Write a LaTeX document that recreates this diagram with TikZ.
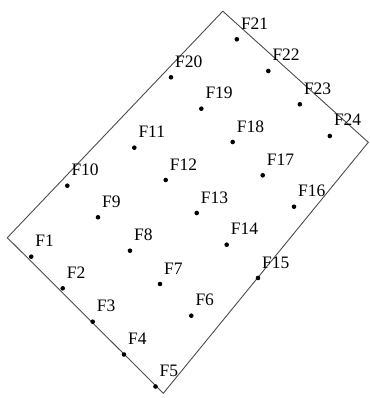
\documentclass[tikz,border=0pt]{standalone}
\usepackage{fontspec}
\setmainfont{Liberation Serif}
\begin{document}
\begin{tikzpicture}[x=1pt,y=-1pt,
  dot/.style={circle,fill=black,inner sep=0pt,minimum size=4.6pt},
  lab/.style={anchor=base west,inner sep=0pt,xshift=4pt,yshift=10pt,font=\fontsize{17.5}{17.5}\selectfont},
  edge/.style={draw=black!70,line width=0.9pt,line join=miter}]
\useasboundingbox (0,0) rectangle (369,398);
\coordinate (L) at (7.3,237.7);
\coordinate (T) at (222.8,11.2);
\coordinate (R) at (368.3,142.3);
\coordinate (B) at (163.3,393.3);
\draw[edge] (L) -- (T) -- (R) -- (B) -- cycle;
\foreach \n/\x/\y in {
  1/31.2/256.7, 2/62.7/288.3, 3/92.7/321.7, 4/124/354.5, 5/155.5/386.5,
  6/191.3/315.7, 7/160/284, 8/130/250.7, 9/98/217.3, 10/67.3/185.7,
  11/134.3/147.7, 12/165.7/180, 13/196.7/213, 14/226.7/244.7, 15/258/278,
  16/294/206.7, 17/262.7/175.3, 18/232.7/142, 19/201.3/108.7, 20/171/77.3,
  21/236.8/39.3, 22/268.3/71, 23/299.8/104.3, 24/329.8/136}{
  \node[dot] (f\n) at (\x,\y) {};
  \node[lab] (l\n) at (f\n) {F\n};
}
\end{tikzpicture}
\end{document}
